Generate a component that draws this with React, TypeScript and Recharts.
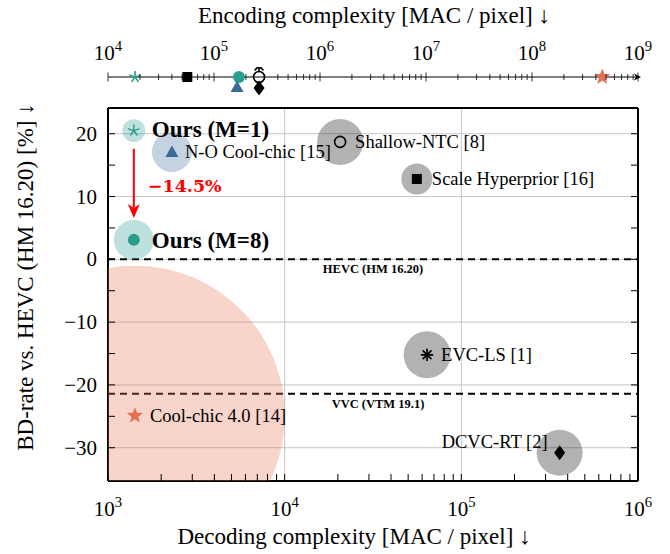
import React from 'react';
import { ScatterChart, Scatter, XAxis, YAxis, ReferenceLine } from 'recharts';

// methods in the comparison
const methods = [
  'Ours (M=1)',
  'Ours (M=8)',
  'N-O Cool-chic [15]',
  'Shallow-NTC [8]',
  'Scale Hyperprior [16]',
  'EVC-LS [1]',
  'DCVC-RT [2]',
  'Cool-chic 4.0 [14]',
];
// decoding complexity [MAC / pixel]
const decodingMac = [1400, 1400, 2300, 20600, 56000, 64000, 360000, 1420];
// BD-rate vs. HEVC (HM 16.20) [%]
const bdRate = [20.5, 3.1, 17.1, 18.7, 12.8, -15.2, -30.8, -24.9];
// encoding complexity [MAC / pixel]
const encodingMac = [18000, 172000, 165000, 266000, 56000, 266000, 266000, 460000000];
// bubble area (relative units)
const bubbleArea = [1.3, 4, 4, 5.3, 2.4, 5.5, 5.3, 225];

// anchor codecs (dashed lines)
const anchorNames = ['HEVC (HM 16.20)', 'VVC (VTM 19.1)'];
const anchorRates = [0, -21.4];

// gain arrow between M=1 and M=8
const gainX = 1400;
const gainFrom = 17.6;
const gainTo = 6.6;
const gainLabel = '\u221214.5%';

// axis ticks
const decDecades = [1e3, 1e4, 1e5, 1e6];
const encDecades = [1e4, 1e5, 1e6, 1e7, 1e8, 1e9];
const bdMajor = [-30, -20, -10, 0, 10, 20];
const bdMinor = [-25, -15, -5, 5, 15];

const withMinors = (decades: number[]) =>
  decades.flatMap((d, i) =>
    i === decades.length - 1 ? [d] : [1, 2, 3, 4, 5, 6, 7, 8, 9].map((m) => m * d)
  );
const decTicks = withMinors(decDecades);
const encTicks = withMinors(encDecades);
const bdTicks = [...bdMajor, ...bdMinor].sort((a, b) => a - b);

const FONT = '"Liberation Serif", "Times New Roman", serif';
const TEAL = '#2a9d8f';
const BLUE = '#3a6b9b';
const ORANGE = '#e76f51';
const BLACK = '#000000';
const GRID = '#c6c6c6';
const BUBBLE_UNIT = 10;

type LabelStyle = { dx: number; dy: number; size?: number; bold?: boolean; anchor?: 'start' | 'end' };
type MethodStyle = { kind: string; color: string; bubble: string; strip: number; label: LabelStyle };

const styleOf: Record<string, MethodStyle> = {
  'Ours (M=1)': { kind: 'spokes5', color: TEAL, bubble: TEAL, strip: 0, label: { dx: 18, dy: 6, size: 23, bold: true } },
  'Ours (M=8)': { kind: 'dot', color: TEAL, bubble: TEAL, strip: 0, label: { dx: 18, dy: 8, size: 23, bold: true } },
  'N-O Cool-chic [15]': { kind: 'triangle', color: BLUE, bubble: BLUE, strip: 10, label: { dx: 13, dy: 6 } },
  'Shallow-NTC [8]': { kind: 'ring', color: BLACK, bubble: BLACK, strip: 0, label: { dx: 15, dy: 6 } },
  'Scale Hyperprior [16]': { kind: 'square', color: BLACK, bubble: BLACK, strip: 0, label: { dx: 15, dy: 6 } },
  'EVC-LS [1]': { kind: 'spokes8', color: BLACK, bubble: BLACK, strip: -11, label: { dx: 14, dy: 6 } },
  'DCVC-RT [2]': { kind: 'diamond', color: BLACK, bubble: BLACK, strip: 11, label: { dx: -12, dy: -5, anchor: 'end' } },
  'Cool-chic 4.0 [14]': { kind: 'star', color: ORANGE, bubble: ORANGE, strip: 0, label: { dx: 15, dy: 6 } },
};

const rows = methods.map((name, i) => ({
  name,
  dec: decodingMac[i],
  bd: bdRate[i],
  enc: encodingMac[i],
  area: bubbleArea[i],
}));

const isDecade = (v: number) => Math.abs(Math.log10(v) - Math.round(Math.log10(v))) < 1e-9;
const fmtBd = (v: number) => (v < 0 ? '\u2212' + Math.abs(v) : String(v));

function Mark({ kind, cx, cy, color }: { kind: string; cx: number; cy: number; color: string }) {
  const spokes = (n: number, len: number, w: number, start: number) => (
    <g stroke={color} strokeWidth={w} strokeLinecap="round">
      {Array.from({ length: n }, (_, k) => {
        const a = ((start + (k * 360) / n) * Math.PI) / 180;
        return <line key={k} x1={cx} y1={cy} x2={cx + len * Math.cos(a)} y2={cy + len * Math.sin(a)} />;
      })}
    </g>
  );
  switch (kind) {
    case 'spokes5':
      return spokes(5, 5.5, 1.5, -90);
    case 'spokes8':
      return spokes(8, 5.5, 1.7, -90);
    case 'dot':
      return <circle cx={cx} cy={cy} r={6} fill={color} />;
    case 'triangle':
      return <polygon points={`${cx},${cy - 6.5} ${cx - 6.5},${cy + 5} ${cx + 6.5},${cy + 5}`} fill={color} />;
    case 'ring':
      return <circle cx={cx} cy={cy} r={5.5} fill="none" stroke={color} strokeWidth={1.6} />;
    case 'square':
      return <rect x={cx - 5} y={cy - 5} width={10} height={10} fill={color} />;
    case 'diamond':
      return <polygon points={`${cx},${cy - 7.5} ${cx + 5.5},${cy} ${cx},${cy + 7.5} ${cx - 5.5},${cy}`} fill={color} />;
    case 'star': {
      const pts = Array.from({ length: 10 }, (_, k) => {
        const r = k % 2 === 0 ? 8.5 : 3.6;
        const a = ((-90 + k * 36) * Math.PI) / 180;
        return `${cx + r * Math.cos(a)},${cy + r * Math.sin(a)}`;
      }).join(' ');
      return <polygon points={pts} fill={color} />;
    }
    default:
      return null;
  }
}

const Bubble = (p: any) => {
  const st = styleOf[p.payload.name];
  const r = BUBBLE_UNIT * Math.sqrt(p.payload.area);
  return <circle cx={p.cx} cy={p.cy} r={r} fill={st.bubble} fillOpacity={0.3} />;
};

const LabeledMark = (p: any) => {
  const st = styleOf[p.payload.name];
  const lb = st.label;
  return (
    <g>
      <Mark kind={st.kind} cx={p.cx} cy={p.cy} color={st.color} />
      <text
        x={p.cx + lb.dx}
        y={p.cy + lb.dy}
        textAnchor={lb.anchor ?? 'start'}
        fontFamily={FONT}
        fontSize={lb.size ?? 18.5}
        fontWeight={lb.bold ? 'bold' : 'normal'}
        fill="#000"
      >
        {p.payload.name}
      </text>
    </g>
  );
};

const StripMark = (p: any) => {
  const st = styleOf[p.payload.name];
  return <Mark kind={st.kind} cx={p.cx} cy={p.cy + st.strip} color={st.color} />;
};

const Pow = ({ x, y, v, size }: { x: number; y: number; v: number; size: number }) => (
  <text x={x} y={y} textAnchor="middle" fontFamily={FONT} fontSize={size} fill="#000">
    10
    <tspan dy={-size * 0.42} fontSize={size * 0.7}>
      {Math.round(Math.log10(v))}
    </tspan>
  </text>
);

const DecTickBottom = (p: any) => {
  const v = p.payload.value;
  return (
    <g>
      <line x1={p.x} x2={p.x} y1={p.y} y2={p.y - 7} stroke="#000" strokeWidth={1} />
      {isDecade(v) && <Pow x={p.x} y={p.y + 35} v={v} size={21} />}
    </g>
  );
};

const DecTickTop = (p: any) => (
  <line x1={p.x} x2={p.x} y1={p.y} y2={p.y + 7} stroke="#000" strokeWidth={1} />
);

const BdTickLeft = (p: any) => {
  const v = p.payload.value;
  return (
    <g>
      <line x1={p.x} x2={p.x + 7} y1={p.y} y2={p.y} stroke="#000" strokeWidth={1} />
      {bdMajor.includes(v) && (
        <text x={p.x - 11} y={p.y + 7} textAnchor="end" fontFamily={FONT} fontSize={21} fill="#000">
          {fmtBd(v)}
        </text>
      )}
    </g>
  );
};

const BdTickRight = (p: any) => (
  <line x1={p.x} x2={p.x - 7} y1={p.y} y2={p.y} stroke="#000" strokeWidth={1} />
);

const EncTick = (p: any) => {
  const v = p.payload.value;
  const major = isDecade(v);
  const len = major ? 4.5 : 3;
  const last = v === encDecades[encDecades.length - 1];
  return (
    <g>
      <line x1={p.x} x2={p.x} y1={p.y - len} y2={p.y + len} stroke="#000" strokeWidth={0.8} />
      {major && <Pow x={p.x} y={p.y - 17} v={v} size={21} />}
      {last && <path d={`M${p.x + 3},${p.y} L${p.x - 4},${p.y - 3.5} L${p.x - 2},${p.y} L${p.x - 4},${p.y + 3.5} Z`} fill="#000" />}
    </g>
  );
};

const GainArrow = (p: any) => {
  const { x1, y1, x2, y2 } = p;
  return (
    <g>
      <line x1={x1} y1={y1} x2={x2} y2={y2 - 10} stroke="#ff0000" strokeWidth={2} />
      <path d={`M${x2},${y2} L${x2 - 6},${y2 - 14} L${x2},${y2 - 10} L${x2 + 6},${y2 - 14} Z`} fill="#ff0000" />
      <text
        x={x1 + 14}
        y={(y1 + y2) / 2 + 9}
        fontFamily='"DejaVu Serif", serif'
        fontWeight="bold"
        fontSize={17.5}
        fill="#ff0000"
      >
        {gainLabel}
      </text>
    </g>
  );
};

export default function App() {
  const axisLine = { stroke: '#000', strokeWidth: 2 };
  return (
    <div style={{ position: 'absolute', left: 0, top: 0, width: 670, height: 554, background: '#fff' }}>
      <svg width={670} height={40} style={{ position: 'absolute', left: 0, top: 0 }}>
        <text x={374} y={23} textAnchor="middle" fontFamily={FONT} fontSize={23} fill="#000">
          Encoding complexity [MAC / pixel] {'\u2193'}
        </text>
      </svg>

      {/* encoding complexity strip */}
      <div style={{ position: 'absolute', left: 0, top: 0 }}>
        <ScatterChart width={670} height={100} margin={{ top: 47, right: 32, bottom: 3, left: 108 }}>
          <XAxis
            xAxisId="enc"
            orientation="top"
            type="number"
            scale="log"
            dataKey="enc"
            domain={[1e4, 1e9]}
            allowDataOverflow
            ticks={encTicks}
            interval={0}
            height={30}
            tickSize={0}
            tickMargin={0}
            tick={(p: any) => <EncTick {...p} />}
            axisLine={{ stroke: '#000', strokeWidth: 1 }}
          />
          <YAxis yAxisId="lane" hide type="number" dataKey={() => 0} domain={[-1, 0]} />
          <Scatter data={rows} xAxisId="enc" yAxisId="lane" shape={StripMark} isAnimationActive={false} />
        </ScatterChart>
      </div>

      {/* main chart */}
      <div style={{ position: 'absolute', left: 0, top: 0 }}>
        <ScatterChart width={670} height={554} margin={{ top: 98, right: 22, bottom: 33, left: 48 }}>
          <XAxis
            xAxisId="dec"
            orientation="bottom"
            type="number"
            scale="log"
            dataKey="dec"
            domain={[1e3, 1e6]}
            allowDataOverflow
            ticks={decTicks}
            interval={0}
            height={40}
            tickSize={0}
            tickMargin={0}
            tick={(p: any) => <DecTickBottom {...p} />}
            axisLine={axisLine}
            label={{
              content: (lp: any) => (
                <text
                  x={lp.viewBox.x + lp.viewBox.width / 2 - 19}
                  y={544}
                  textAnchor="middle"
                  fontFamily={FONT}
                  fontSize={23}
                  fill="#000"
                >
                  Decoding complexity [MAC / pixel] {'\u2193'}
                </text>
              ),
            }}
          />
          <XAxis
            xAxisId="decTop"
            orientation="top"
            type="number"
            scale="log"
            domain={[1e3, 1e6]}
            allowDataOverflow
            ticks={decTicks}
            interval={0}
            height={10}
            tickSize={0}
            tickMargin={0}
            tick={(p: any) => <DecTickTop {...p} />}
            axisLine={axisLine}
          />
          <YAxis
            yAxisId="bd"
            orientation="left"
            type="number"
            dataKey="bd"
            domain={[-35.3, 24.1]}
            allowDataOverflow
            ticks={bdTicks}
            interval={0}
            width={60}
            tickSize={0}
            tickMargin={0}
            tick={(p: any) => <BdTickLeft {...p} />}
            axisLine={axisLine}
            label={{
              content: () => (
                <text
                  transform="translate(33,277) rotate(-90)"
                  textAnchor="middle"
                  fontFamily={FONT}
                  fontSize={23}
                  fill="#000"
                >
                  BD-rate vs. HEVC (HM 16.20) [%] {'\u2193'}
                </text>
              ),
            }}
          />
          <YAxis
            yAxisId="bdRight"
            orientation="right"
            type="number"
            domain={[-35.3, 24.1]}
            allowDataOverflow
            ticks={bdTicks}
            interval={0}
            width={10}
            tickSize={0}
            tickMargin={0}
            tick={(p: any) => <BdTickRight {...p} />}
            axisLine={axisLine}
          />

          {decDecades.slice(1, -1).map((v) => (
            <ReferenceLine key={`gx${v}`} xAxisId="dec" yAxisId="bd" x={v} stroke={GRID} strokeWidth={1} />
          ))}
          {bdMajor.map((v) => (
            <ReferenceLine key={`gy${v}`} xAxisId="dec" yAxisId="bd" y={v} stroke={GRID} strokeWidth={1} />
          ))}

          <Scatter data={rows} xAxisId="dec" yAxisId="bd" shape={Bubble} isAnimationActive={false} />

          {anchorNames.map((name, i) => (
            <ReferenceLine
              key={name}
              xAxisId="dec"
              yAxisId="bd"
              y={anchorRates[i]}
              stroke="#000"
              strokeWidth={2}
              strokeDasharray="7 5"
              label={{
                content: (lp: any) => (
                  <text
                    x={lp.viewBox.x + lp.viewBox.width / 2 + (i === 0 ? 0 : 5)}
                    y={lp.viewBox.y + 14}
                    textAnchor="middle"
                    fontFamily={FONT}
                    fontWeight="bold"
                    fontSize={12.5}
                    fill="#000"
                  >
                    {name}
                  </text>
                ),
              }}
            />
          ))}

          <ReferenceLine
            xAxisId="dec"
            yAxisId="bd"
            segment={[
              { x: gainX, y: gainFrom },
              { x: gainX, y: gainTo },
            ]}
            shape={(p: any) => <GainArrow {...p} />}
          />

          <Scatter data={rows} xAxisId="dec" yAxisId="bd" shape={LabeledMark} isAnimationActive={false} />
        </ScatterChart>
      </div>
    </div>
  );
}
